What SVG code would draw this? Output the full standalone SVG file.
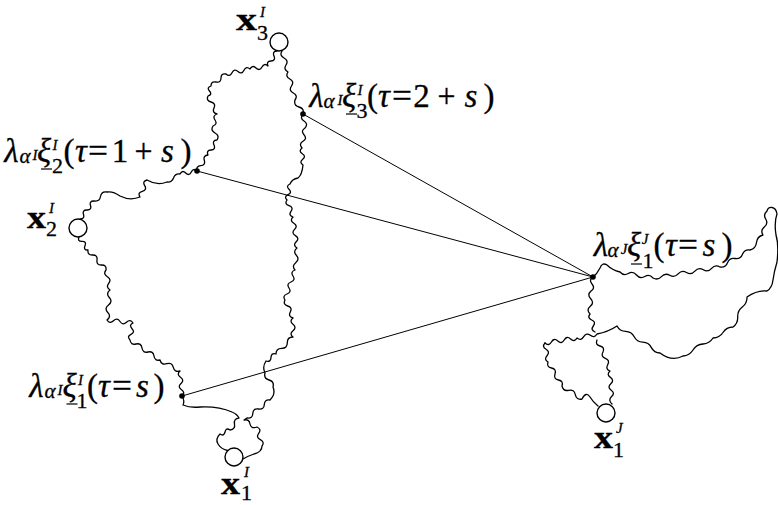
<svg xmlns="http://www.w3.org/2000/svg" width="778" height="505" viewBox="0 0 778 505">
<style>
.w{fill:none;stroke:#000;stroke-width:1.3;stroke-linejoin:round;stroke-linecap:round}
.s{stroke:#000;stroke-width:1}
.u{stroke:#000;stroke-width:1.2}
.c{fill:#fff;stroke:#000;stroke-width:1.4}
.d{fill:#000}
.t{font-family:"Liberation Serif","Times New Roman",serif;fill:#000;stroke:#000;stroke-width:0.3;text-anchor:middle}
.st{text-anchor:start}
.m{font-style:italic}
.b{font-weight:bold}
.L{font-size:33px}
.S{font-size:22px}
.A{font-size:21px}
.SS{font-size:15px}
</style>
<rect width="778" height="505" fill="#fff"/>
<g id="connectors">
<line class="s" x1="303" y1="114" x2="593" y2="277"/>
<line class="s" x1="197" y1="171" x2="593" y2="277"/>
<line class="s" x1="182" y1="396" x2="593" y2="277"/>
<path id="chainA" class="w" d="M 277 51 Q 272.1 51.4 274 56 T 271 61 T 268 66 Q 264.3 62.6 262 67 T 256 68 T 250 69 Q 246.2 65.7 244 70.25 T 238 71.5 T 232 72.75 T 226 74 Q 221 72.9 221 78 T 216 82 T 211 86 Q 206.4 87.4 209.5 91 T 208 96 Q 205.9 100.8 211 102 T 214 108 T 217 114 Q 212.2 115.7 215 120 T 213 126 Q 210.2 130.6 215 133 T 217 140 Q 212.1 140.4 214 145 T 211 150 T 208 155 Q 202.9 155.4 204.3 160.3 T 200.7 165.7 T 197 171 Q 193.5 167.6 191.3 172 T 185.7 173 T 180 174 Q 175.2 173.4 173.5 178 T 167 182 Q 157 186 147 180 Q 142.1 181.3 144.7 185.7 T 142.3 191.3 T 140 197 Q 130 201 120 196 Q 113 191 107 192 Q 101.5 191 100.5 196.5 T 94 201 Q 89.1 200.8 90.5 205.5 T 87 210 T 83.5 214.5 T 80 219"/>
<path id="chainB" class="w" d="M 282 51 Q 279.2 55.6 284 58 T 286 65 T 288 72 Q 285 76.5 289.8 79 T 291.5 86 T 293.3 93 T 295 100 Q 293.5 105.5 299 107 T 303 114 Q 299.5 118.1 304 121 T 305 128 Q 300.5 130.7 304 134.7 T 303 141.3 T 302 148 Q 298.2 151.1 302.3 153.7 T 302.7 159.3 T 303 165 Q 302 175 298 178 Q 292 179 290 184 Q 285.6 185.9 289 189.3 T 288 194.7 T 287 200 Q 284.2 204.1 289 205.7 T 291 211.3 T 293 217 Q 289.4 220.6 293.8 223.2 T 294.6 229.4 T 295.4 235.6 T 296.2 241.8 T 297 248 Q 292.7 251.3 296.3 255.3 T 295.7 262.7 T 295 270 Q 290.2 271.7 293 276 T 291 282 T 289 288 T 287 294 T 285 300 Q 282.7 304.6 287.7 306 T 290.3 312 T 293 318 Q 289 321.2 293 324.3 T 293 330.7 T 293 337 Q 287.3 337 287.3 342.7 T 281.7 348.3 T 276 354 Q 271.2 352.5 271 357.5 T 266 361 Q 262 367 265 373 Q 263.5 378.5 269 380 T 273 387 Q 276 394 270 400 Q 264.6 399.1 264.3 404.5 T 258.5 409 T 252.8 413.5 T 247 418 L 244 420 Q 249.2 418.7 250 424 T 257 427 Q 261.7 429.2 258.7 433.3 T 260.3 439.7 T 262 446 Q 262 452 254 454 Q 248 456 243 459"/>
<path id="chainC" class="w" d="M 79 237 Q 77.2 241.5 82 241.3 T 85 245.7 T 88 250 Q 87.3 255.2 92.5 255 T 97 260 T 101.5 265 T 106 270 Q 102.8 274.1 107.3 276.7 T 108.7 283.3 T 110 290 Q 105.6 293.4 109.3 297.5 T 108.5 305 T 107.8 312.5 T 107 320 Q 109.8 324.4 113.5 320.8 T 120 321.5 T 126.5 322.3 T 133 323 Q 128.6 325.1 132 328.7 T 131 334.3 T 130 340 Q 130.8 345.3 136 344 T 142 348 T 148 352 T 154 356 T 160 360 Q 161.4 365.3 166.7 363.7 T 173.3 367.3 T 180 371 Q 176.3 374.4 180.5 377.3 T 181 383.5 T 181.5 389.8 T 182 396"/>
<path id="chainD" class="w" d="M 182 396 Q 185 401 183 405 Q 190 408 200 407 Q 218 406 232 412 Q 237 414 239 418 Q 233.5 418.6 234.5 424 T 230 430 Q 226 427.3 225 432 T 220 434 Q 215 439 218 444 Q 221 449 227.5 450.5"/>
<path id="chainE" class="w" d="M 593 277 Q 588.5 279.9 592 284 T 591 291 Q 586.8 294.7 590.7 298.7 T 590.3 306.3 T 590 314 Q 587 318.1 591.7 320 T 593.3 326 T 595 332 M 597 340 Q 594.9 344.8 600 346 T 603 352 Q 600.4 356.5 605.3 358.3 T 607.7 364.7 T 610 371 Q 606.2 374.5 610.4 377.4 T 610.8 383.8 T 611.2 390.2 T 611.6 396.6 T 612 404"/>
<path id="chainF1" class="w" d="M 545 343 Q 541.6 346.8 546 349.3 T 547 355.7 T 548 362 Q 546.3 367 551.5 368 T 555 374 T 558.5 380 T 562 386 Q 563.2 391.5 568.7 390.3 T 575.3 394.7 T 582 399 Q 586 391 590 397 Q 593 402 598 406"/>
<path id="chainF2" class="w" d="M 545 343 Q 548.8 346.5 551.4 342 T 557.8 341 T 564.2 340 T 570.6 339 T 577 338 Q 581.1 341.2 583.7 336.7 T 590.3 335.3 T 597 334 Q 608 332 617 326 Q 619.7 331.2 625.6 331.4 T 634.2 336.8 T 642.8 342.2 T 651.4 347.6 T 660 353 Q 672 362 683 356 Q 689.5 355.6 693 350 T 703 344 T 713 338 Q 719.5 337.9 723 332.5 T 733 327 Q 738 323.3 737.7 317 T 742.3 307 T 747 297 Q 757 290 767 291 Q 772 288 773 280 Q 774 272 777 262 Q 779 245 776 235 Q 774 222 777 214 Q 776 208 772 207.5 Q 768 207 767 211 Q 762.9 214.4 765.7 219 T 764.3 227 T 763 235 Q 757.1 236.5 756.5 242.5 T 750 250 Q 744.5 249.1 742.5 254.3 T 735 258.5 T 727.5 262.8 T 720 267 Q 715.2 264.2 711.6 268.4 T 703.3 269.8 T 694.9 271.1 T 686.5 272.5 T 678.1 273.9 T 669.8 275.3 T 661.4 276.6 T 653 278 Q 649.5 273.8 644.8 276.5 T 636.5 275 T 628.3 273.5 T 620 272 Q 612 270 607 265 Q 602 262 600 268 Q 597 274 593 277"/>
</g>
<g id="node-x3I">
<circle class="c" cx="279" cy="42" r="9"/>
<text class="t st b" x="236" y="30" font-size="32" textLength="21" lengthAdjust="spacingAndGlyphs">x</text>
<text class="t st S" x="257" y="40">3</text>
<text class="t st m SS" x="260" y="17">I</text>
</g>
<g id="node-x2I">
<circle class="c" cx="78" cy="228" r="9"/>
<text class="t st b" x="27" y="228" font-size="32" textLength="19" lengthAdjust="spacingAndGlyphs">x</text>
<text class="t st S" x="46" y="236">2</text>
<text class="t st m SS" x="49" y="213">I</text>
</g>
<g id="node-x1I">
<circle class="c" cx="234" cy="457" r="9"/>
<text class="t st b" x="221" y="494" font-size="32" textLength="19" lengthAdjust="spacingAndGlyphs">x</text>
<text class="t st S" x="241" y="500">1</text>
<text class="t st m SS" x="244" y="477">I</text>
</g>
<g id="node-x1J">
<circle class="c" cx="606" cy="413" r="9"/>
<text class="t st b" x="594" y="448" font-size="32" textLength="19" lengthAdjust="spacingAndGlyphs">x</text>
<text class="t st S" x="613" y="457">1</text>
<text class="t st m SS" x="616" y="433">J</text>
</g>
<g id="node-xi3">
<circle class="d" cx="303" cy="114" r="2.8"/>
<text class="t m L" x="316.5" y="107">λ</text>
<text class="t m A" x="329" y="108">α</text>
<text class="t m SS" x="340" y="105">I</text>
<text class="t m L" x="349" y="107">ξ</text>
<line class="u" x1="346" y1="114" x2="357" y2="114"/>
<text class="t m SS" x="360" y="95">I</text>
<text class="t S" x="362" y="118">3</text>
<text class="t L" x="372.5" y="107">(</text>
<text class="t m L" x="384" y="107">τ</text>
<text class="t L" x="402" y="107" textLength="20" lengthAdjust="spacingAndGlyphs">=</text>
<text class="t L" x="421.5" y="107">2</text>
<text class="t L" x="446.5" y="107" textLength="18" lengthAdjust="spacingAndGlyphs">+</text>
<text class="t m L" x="471" y="107">s</text>
<text class="t L" x="489" y="107">)</text>
</g>
<g id="node-xi2">
<circle class="d" cx="197" cy="171" r="2.8"/>
<text class="t m L" x="11.5" y="162">λ</text>
<text class="t m A" x="25" y="163">α</text>
<text class="t m SS" x="35" y="160">I</text>
<text class="t m L" x="44" y="162">ξ</text>
<line class="u" x1="41" y1="169" x2="52" y2="169"/>
<text class="t m SS" x="55" y="150">I</text>
<text class="t S" x="57.5" y="173">2</text>
<text class="t L" x="69" y="162">(</text>
<text class="t m L" x="81" y="162">τ</text>
<text class="t L" x="98" y="162" textLength="20" lengthAdjust="spacingAndGlyphs">=</text>
<text class="t L" x="120" y="162">1</text>
<text class="t L" x="143.5" y="162" textLength="18" lengthAdjust="spacingAndGlyphs">+</text>
<text class="t m L" x="167.5" y="162">s</text>
<text class="t L" x="186" y="162">)</text>
</g>
<g id="node-xi1">
<circle class="d" cx="182" cy="396" r="2.8"/>
<text class="t m L" x="36.5" y="397">λ</text>
<text class="t m A" x="50" y="398">α</text>
<text class="t m SS" x="60" y="395">I</text>
<text class="t m L" x="69.5" y="397">ξ</text>
<line class="u" x1="66.5" y1="404" x2="77.5" y2="404"/>
<text class="t m SS" x="80.5" y="385">I</text>
<text class="t S" x="82" y="408">1</text>
<text class="t L" x="92.5" y="397">(</text>
<text class="t m L" x="104" y="397">τ</text>
<text class="t L" x="122" y="397" textLength="20" lengthAdjust="spacingAndGlyphs">=</text>
<text class="t m L" x="142.5" y="397">s</text>
<text class="t L" x="159" y="397">)</text>
</g>
<g id="node-xiJ">
<circle class="d" cx="593" cy="277" r="2.8"/>
<text class="t m L" x="601" y="256">λ</text>
<text class="t m A" x="613" y="257">α</text>
<text class="t m SS" x="624" y="254">J</text>
<text class="t m L" x="634" y="256">ξ</text>
<line class="u" x1="631" y1="264" x2="642" y2="264"/>
<text class="t m SS" x="645" y="244">J</text>
<text class="t S" x="648" y="268">1</text>
<text class="t L" x="659" y="256">(</text>
<text class="t m L" x="671" y="256">τ</text>
<text class="t L" x="688" y="256" textLength="20" lengthAdjust="spacingAndGlyphs">=</text>
<text class="t m L" x="709" y="256">s</text>
<text class="t L" x="727" y="256">)</text>
</g>
</svg>
